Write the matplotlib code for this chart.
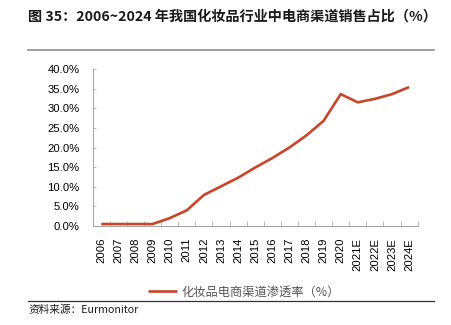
import matplotlib
matplotlib.use("Agg")
import matplotlib.pyplot as plt
from matplotlib.lines import Line2D
from matplotlib.ticker import FixedLocator, FuncFormatter

plt.rcParams['font.family'] = ['Noto Sans CJK SC', 'DejaVu Sans']

years = ["2006", "2007", "2008", "2009", "2010", "2011", "2012", "2013", "2014",
         "2015", "2016", "2017", "2018", "2019", "2020", "2021E", "2022E",
         "2023E", "2024E"]
share = [0.5, 0.5, 0.5, 0.5, 2.0, 4.0, 7.9, 10.1, 12.3, 14.9, 17.3, 20.0,
         23.1, 26.8, 33.6, 31.5, 32.4, 33.6, 35.4]

title = "图 35：2006~2024 年我国化妆品行业中电商渠道销售占比（%）"
series_name = "化妆品电商渠道渗透率（%）"
source = "资料来源：Eurmonitor"

W, H = 451, 325
fig = plt.figure(figsize=(W / 100, H / 100), dpi=100)

def fx(px):
    return px / W

def fy(py):
    return 1 - py / H

# title and rules
fig.text(fx(28), fy(17), title, fontsize=10.2, fontweight='bold',
         color='#1a1a1a', va='center', ha='left')
fig.add_artist(Line2D([fx(28), fx(434)], [fy(49.5), fy(49.5)],
                      color='#8c8c8c', lw=1.2))
fig.add_artist(Line2D([fx(28), fx(434)], [fy(301), fy(301)],
                      color='#333333', lw=0.9))
fig.text(fx(28), fy(309.5), source, fontsize=7.7, color='#1a1a1a',
         va='center', ha='left')

# plot area
left, right, top, bottom = 92.7, 417.7, 69, 226
ax = fig.add_axes([fx(left), fy(bottom), fx(right - left), (bottom - top) / H])
x = list(range(len(years)))
line, = ax.plot(x, share, color='#C9452A', lw=1.9, solid_capstyle='butt',
                label=series_name)

ax.set_xlim(-0.5, len(years) - 0.5)
ax.set_ylim(0, 40)
ax.set_yticks(range(0, 41, 5))
ax.yaxis.set_major_formatter(FuncFormatter(lambda v, p: f"{v:.1f}%"))
ax.set_xticks(x)
ax.set_xticklabels(years, rotation=90, fontsize=8.1, family='Liberation Sans')
ax.xaxis.set_minor_locator(FixedLocator([i + 0.5 for i in range(-1, len(years))]))
ax.tick_params(axis='x', which='major', length=0, pad=8.5)
ax.tick_params(axis='x', which='minor', direction='in', length=3.5,
               color='#b0b0b0', width=0.6)
ax.tick_params(axis='y', direction='in', length=2.5, color='#b0b0b0',
               width=0.6, pad=9.5)
for lab in ax.get_yticklabels():
    lab.set_family('Liberation Sans')
    lab.set_fontsize(8.1)
for s in ('top', 'right'):
    ax.spines[s].set_visible(False)
for s in ('left', 'bottom'):
    ax.spines[s].set_color('#a8a8a8')
    ax.spines[s].set_linewidth(0.8)

fig.legend(handles=[line], loc='center', bbox_to_anchor=(fx(244), fy(292)),
           frameon=False, fontsize=8.8, handlelength=2.4, handletextpad=0.35,
           labelcolor='#555555')

fig.savefig("out.png", dpi=100)
